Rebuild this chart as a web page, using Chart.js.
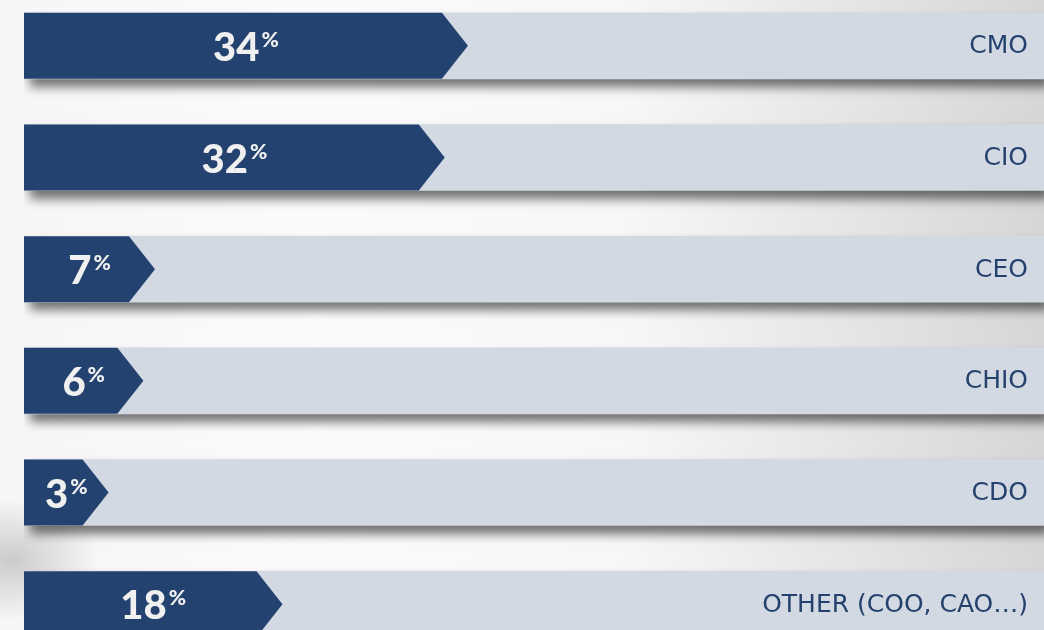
<!DOCTYPE html>
<html>
<head>
<meta charset="utf-8">
<script src="https://cdn.jsdelivr.net/npm/chart.js@4.4.1/dist/chart.umd.min.js"></script>
<style>
  html, body { margin: 0; padding: 0; width: 1044px; height: 630px; overflow: hidden; }
  body {
    background:
      radial-gradient(ellipse 90px 60px at 10px 560px, rgba(150,150,150,0.45), rgba(150,150,150,0) 100%),
      linear-gradient(90deg, #f6f6f6 0%, #fbfbfb 30%, #f7f7f7 60%, #d6d6d6 100%);
    position: relative;
  }
  .wrap { position: absolute; left: 0; top: -10px; width: 1044px; height: 670px; }
</style>
</head>
<body>
<div class="wrap"><canvas id="roles"></canvas></div>
<script>
const roles = ["CMO", "CIO", "CEO", "CHIO", "CDO", "OTHER (COO, CAO…)"];
const shares = [34, 32, 7, 6, 3, 18];
const axisMin = -4.3;
const axisMax = 83.7;

const darkBlue = "#23426f";
const lightBar = "#d2d9e3";
const tipDepth = 26;

const arrowPlugin = {
  id: "arrows",
  beforeDatasetDraw(chart, args) {
    if (args.index === 1) {
      const ctx = chart.ctx;
      ctx.save();
      ctx.shadowColor = "rgba(0,0,0,0.55)";
      ctx.shadowBlur = 10;
      ctx.shadowOffsetX = 6;
      ctx.shadowOffsetY = 8;
    }
  },
  afterDatasetDraw(chart, args) {
    if (args.index === 1) chart.ctx.restore();
  },
  afterDatasetsDraw(chart) {
    const ctx = chart.ctx;
    const meta = chart.getDatasetMeta(0);
    const area = chart.chartArea;
    meta.data.forEach((bar, i) => {
      // floating bars may swap base/x, so sort them
      const left = Math.min(bar.base, bar.x);
      const tip = Math.max(bar.base, bar.x);
      const top = bar.y - bar.height / 2;
      const bottom = bar.y + bar.height / 2;
      ctx.save();
      ctx.fillStyle = darkBlue;
      ctx.beginPath();
      ctx.moveTo(left, top);
      ctx.lineTo(tip - tipDepth, top);
      ctx.lineTo(tip, bar.y);
      ctx.lineTo(tip - tipDepth, bottom);
      ctx.lineTo(left, bottom);
      ctx.closePath();
      ctx.fill();

      // value label, centred on the arrow
      const num = String(shares[i]);
      ctx.fillStyle = "#f0f0f0";
      ctx.textBaseline = "alphabetic";
      ctx.font = "900 40px Lato";
      const numW = ctx.measureText(num).width;
      ctx.font = "900 21px Lato";
      const pctW = ctx.measureText("%").width;
      const total = numW + 2 + pctW;
      const cx = (left + tip) / 2;
      const startX = cx - total / 2;
      const baseY = bar.y + 15;
      ctx.font = "900 40px Lato";
      ctx.textAlign = "left";
      ctx.fillText(num, startX, baseY);
      ctx.font = "900 21px Lato";
      ctx.fillText("%", startX + numW + 2, baseY - 14);

      // category on the right
      ctx.fillStyle = "#24416e";
      ctx.font = "25px 'DejaVu Sans'";
      ctx.textAlign = "right";
      ctx.textBaseline = "middle";
      ctx.fillText(roles[i], area.right - 16, bar.y + 1);
      ctx.restore();
    });
  }
};

new Chart(document.getElementById("roles"), {
  type: "bar",
  data: {
    labels: roles,
    datasets: [
      {
        data: shares.map(v => [axisMin, v]),
        backgroundColor: "rgba(0,0,0,0)",
        grouped: false,
        barThickness: 66
      },
      {
        data: shares.map(() => [axisMin, axisMax]),
        backgroundColor: lightBar,
        grouped: false,
        barThickness: 66
      }
    ]
  },
  options: {
    indexAxis: "y",
    responsive: true,
    maintainAspectRatio: false,
    animation: false,
    layout: { padding: { left: 24, right: 0, top: 0, bottom: 0 } },
    plugins: { legend: { display: false }, tooltip: { enabled: false } },
    scales: {
      x: { type: "linear", min: axisMin, max: axisMax, display: false },
      y: { display: false }
    }
  },
  plugins: [arrowPlugin]
});
</script>
</body>
</html>
